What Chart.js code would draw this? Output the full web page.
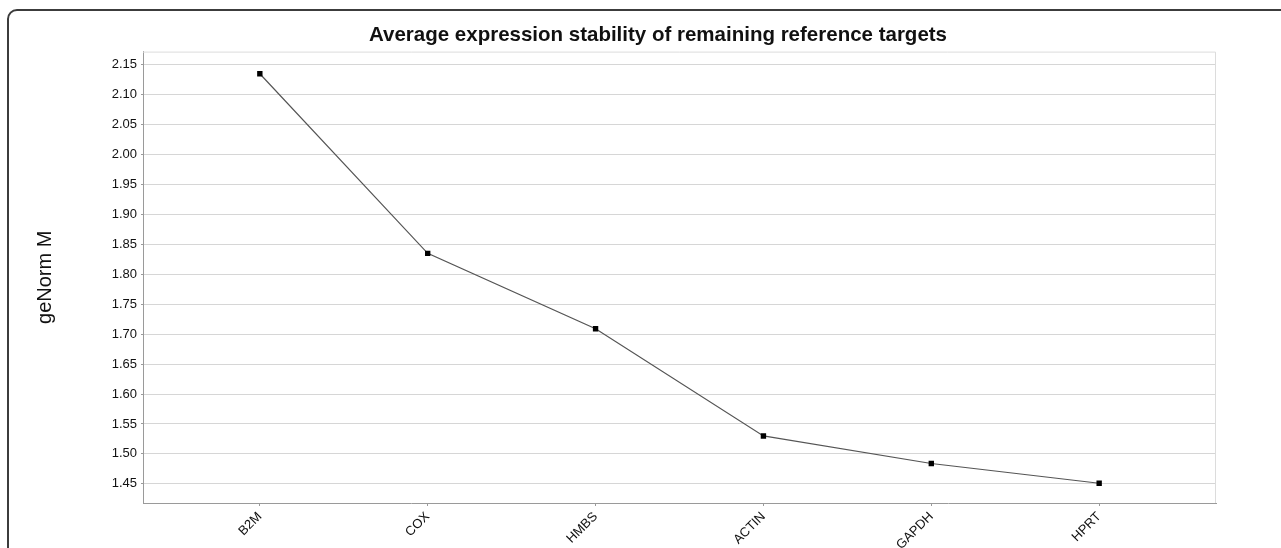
<!DOCTYPE html>
<html>

<head>
    <title>geNorm M</title>
    <meta charset="utf-8">
    <style>
        body {
            margin: 0;
            background: #ffffff;
        }

        .frame {
            position: absolute;
            left: 7px;
            top: 9px;
            width: 1300px;
            height: 600px;
            border: 2px solid #3c3c3c;
            border-radius: 10px;
        }

        #stabilityChart {
            position: absolute;
            left: 0;
            top: 0;
        }
    </style>
</head>

<body>
    <div class="frame"></div>
    <canvas id="stabilityChart" width="1281" height="548"></canvas>

    <script src="https://cdn.jsdelivr.net/npm/chart.js@4/dist/chart.umd.min.js"></script>
    <script>
        // reference targets, most to least unstable
        const genes = ['B2M', 'COX', 'HMBS', 'ACTIN', 'GAPDH', 'HPRT'];
        const genormM = [2.135, 1.835, 1.709, 1.530, 1.484, 1.451];

        const yMin = 1.418;
        const yMax = 2.172;
        const yStep = 0.05;

        const sans = "'Liberation Sans', Arial, sans-serif";

        // light border on the top and right of the plot
        const plotFrame = {
            id: 'plotFrame',
            beforeDatasetsDraw(chart) {
                const { ctx, chartArea } = chart;
                ctx.save();
                ctx.strokeStyle = '#dcdcdc';
                ctx.lineWidth = 1;
                ctx.beginPath();
                ctx.moveTo(chartArea.left, chartArea.top + 0.5);
                ctx.lineTo(chartArea.right - 0.5, chartArea.top + 0.5);
                ctx.lineTo(chartArea.right - 0.5, chartArea.bottom);
                ctx.stroke();
                ctx.restore();
            }
        };

        const points = genes.map((g, i) => ({ x: i, y: genormM[i] }));

        new Chart(document.getElementById('stabilityChart'), {
            type: 'line',
            data: {
                datasets: [{
                    label: 'geNorm M',
                    data: points,
                    borderColor: '#555555',
                    borderWidth: 1.2,
                    pointStyle: 'rect',
                    pointRadius: 3.8,
                    pointBackgroundColor: '#000000',
                    pointBorderColor: '#000000',
                    pointBorderWidth: 0,
                    tension: 0,
                    fill: false
                }]
            },
            options: {
                responsive: false,
                animation: false,
                layout: {
                    padding: { left: 100, right: 65, top: 0, bottom: 0 }
                },
                plugins: {
                    legend: { display: false },
                    tooltip: { enabled: false },
                    title: {
                        display: true,
                        text: 'Average expression stability of remaining reference targets',
                        color: '#111111',
                        font: { family: sans, size: 20.5, weight: 'bold' },
                        padding: { top: 23, bottom: 4 }
                    }
                },
                scales: {
                    x: {
                        type: 'linear',
                        min: -0.696,
                        max: 5.696,
                        afterFit(scale) { scale.height = 45; },
                        border: { color: '#9a9a9a', width: 1 },
                        grid: {
                            drawOnChartArea: false,
                            tickLength: 3,
                            tickColor: '#9a9a9a'
                        },
                        ticks: {
                            stepSize: 1,
                            includeBounds: false,
                            autoSkip: false,
                            minRotation: 45,
                            maxRotation: 45,
                            padding: 3,
                            color: '#111111',
                            font: { family: sans, size: 13 },
                            callback: v => genes[v] ?? ''
                        }
                    },
                    y: {
                        min: yMin,
                        max: yMax,
                        afterFit(scale) { scale.width = 43; },
                        border: { color: '#9a9a9a', width: 1 },
                        grid: {
                            color: '#d6d6d6',
                            borderDash: [1, 2],
                            tickLength: 2,
                            tickColor: '#9a9a9a'
                        },
                        ticks: {
                            stepSize: yStep,
                            includeBounds: false,
                            padding: 4,
                            color: '#111111',
                            font: { family: sans, size: 13 },
                            callback: v => v.toFixed(2)
                        },
                        title: {
                            display: true,
                            text: 'geNorm M',
                            color: '#111111',
                            font: { family: sans, size: 20 },
                            padding: { top: -67, bottom: 0 }
                        }
                    }
                }
            },
            plugins: [plotFrame]
        });
    </script>
</body>

</html>
